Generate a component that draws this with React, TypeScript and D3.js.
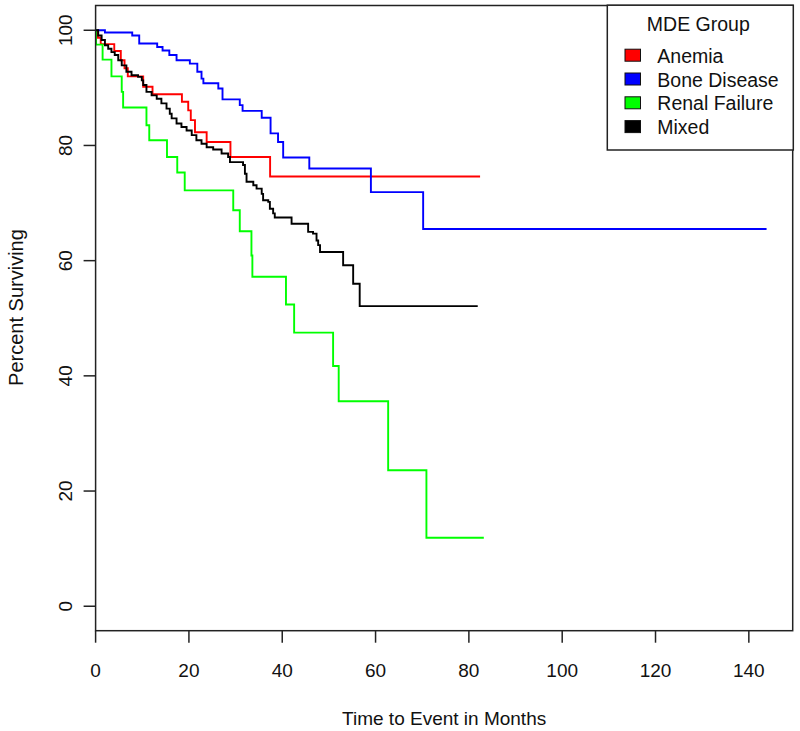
import React from "react";
import * as d3 from "d3";

// ---- data ----
const groupNames = ["Anemia", "Bone Disease", "Renal Failure", "Mixed"];
const groupColors = ["#FF0000", "#0000FF", "#00FF00", "#000000"];

// Anemia (red)
const anemiaTime = [0, 0.5, 1.1, 4.0, 5.4, 6.2, 6.9, 10.2, 12.2, 18.5, 19.85, 20.4, 21.3, 23.8, 28.9, 37.4];
const anemiaSurv = [100, 98.7, 97.6, 96.4, 94.8, 93.4, 92.0, 90.2, 88.9, 87.6, 86.1, 84.4, 82.3, 80.6, 78.0, 74.6];
const anemiaEnd = 82.4;

// Bone Disease (blue)
const boneTime = [0, 2.0, 7.85, 9.35, 13.2, 14.35, 15.8, 17.35, 20.2, 21.8, 22.7, 23.1, 26.3, 27.2, 30.9, 31.5, 35.6, 37.5, 39.1, 40.2, 45.8, 59.0, 70.2];
const boneSurv = [100, 99.6, 99.1, 97.7, 97.1, 96.5, 95.7, 94.8, 94.2, 92.8, 91.6, 90.8, 89.9, 88.0, 87.0, 86.0, 84.8, 82.1, 80.6, 77.9, 76.0, 71.9, 65.5];
const boneEnd = 143.8;

// Renal Failure (green)
const renalTime = [0, 0.1, 1.5, 3.4, 5.6, 5.9, 10.9, 11.5, 15.3, 17.5, 19.1, 29.5, 30.9, 33.4, 33.6, 40.8, 42.55, 50.9, 52.1, 62.7, 70.9];
const renalSurv = [100, 97.5, 94.9, 92.0, 89.3, 86.6, 83.5, 80.9, 78.0, 75.3, 72.2, 68.75, 65.1, 60.9, 57.2, 52.4, 47.5, 41.7, 35.6, 23.6, 11.9];
const renalEnd = 83.2;

// Mixed (black)
const mixedTime = [0, 0.56, 1.29, 2.0, 2.7, 3.4, 4.1, 4.85, 5.6, 6.6, 7.7, 9.1, 9.9, 10.2, 10.9, 12.0, 13.1, 14.1, 15.2, 15.9, 16.3, 17.35, 18.4, 19.5, 20.6, 21.6, 22.7, 23.8, 25.2, 27.0, 28.4, 28.8, 31.6, 32.0, 32.35, 33.8, 34.5, 35.6, 35.9, 37.0, 37.35, 38.05, 38.4, 42.0, 45.55, 46.6, 47.35, 47.7, 48.1, 53.05, 55.2, 56.6];
const mixedSurv = [100, 99.1, 98.3, 97.4, 96.8, 96.2, 95.7, 94.8, 93.9, 92.8, 92.2, 91.9, 91.3, 90.5, 89.3, 88.7, 88.1, 87.3, 86.4, 85.5, 84.7, 83.8, 83.2, 82.6, 81.8, 80.9, 80.3, 79.7, 79.3, 78.6, 78.0, 77.1, 76.6, 75.1, 73.7, 73.1, 72.5, 71.6, 70.5, 70.2, 69.0, 68.2, 67.5, 66.4, 65.0, 64.7, 63.5, 62.7, 61.5, 59.2, 56.0, 52.1];
const mixedEnd = 81.9;

const xTicks = [0, 20, 40, 60, 80, 100, 120, 140];
const yTicks = [0, 20, 40, 60, 80, 100];

const xLabel = "Time to Event in Months";
const yLabel = "Percent Surviving";
const legendTitle = "MDE Group";

const series = [
  { name: groupNames[0], color: groupColors[0], time: anemiaTime, surv: anemiaSurv, end: anemiaEnd },
  { name: groupNames[1], color: groupColors[1], time: boneTime, surv: boneSurv, end: boneEnd },
  { name: groupNames[2], color: groupColors[2], time: renalTime, surv: renalSurv, end: renalEnd },
  { name: groupNames[3], color: groupColors[3], time: mixedTime, surv: mixedSurv, end: mixedEnd },
];

export default function App() {
  const W = 800;
  const H = 731;
  const left = 95.6;
  const right = 792.7;
  const top = 5.5;
  const bottom = 630.7;

  const x = d3.scaleLinear().domain([0, 149.4]).range([left, right]);
  const y = d3.scaleLinear().domain([-4.3, 104.3]).range([631, 5.5]);

  const line = d3
    .line<[number, number]>()
    .x((d) => x(d[0]))
    .y((d) => y(d[1]))
    .curve(d3.curveStepAfter);

  const font = "'Liberation Sans', Arial, sans-serif";
  const axisColor = "#222";

  const legendX0 = 607.3;
  const legendX1 = 793.3;
  const legendY0 = 5.2;
  const legendY1 = 150;
  const rowY = (i: number) => 55.2 + i * 23.8;

  return (
    <svg
      width={W}
      height={H}
      style={{ position: "absolute", left: 0, top: 0, background: "#fff" }}
      fontFamily={font}
    >
      <rect x={0} y={0} width={W} height={H} fill="#fff" />
      {/* curves */}
      {series.map((s) => {
        const pts: [number, number][] = s.time.map((t, i) => [t, s.surv[i]] as [number, number]);
        pts.push([s.end, s.surv[s.surv.length - 1]]);
        return (
          <path key={s.name} d={line(pts) || ""} fill="none" stroke={s.color} strokeWidth={1.9} />
        );
      })}

      {/* box */}
      <rect
        x={left}
        y={top}
        width={right - left}
        height={bottom - top}
        fill="none"
        stroke={axisColor}
        strokeWidth={1.5}
      />

      {/* x axis ticks */}
      {xTicks.map((t) => (
        <g key={"x" + t}>
          <line x1={x(t)} x2={x(t)} y1={bottom} y2={bottom + 12} stroke={axisColor} strokeWidth={1.5} />
          <text x={x(t)} y={676.5} fontSize={19} textAnchor="middle" fill="#111">
            {t}
          </text>
        </g>
      ))}

      {/* y axis ticks */}
      {yTicks.map((t) => (
        <g key={"y" + t}>
          <line x1={left - 12} x2={left} y1={y(t)} y2={y(t)} stroke={axisColor} strokeWidth={1.5} />
          <text
            transform={`translate(72,${y(t)}) rotate(-90)`}
            fontSize={19}
            textAnchor="middle"
            fill="#111"
          >
            {t}
          </text>
        </g>
      ))}

      {/* axis titles */}
      <text x={(left + right) / 2} y={725} fontSize={19} textAnchor="middle" fill="#111">
        {xLabel}
      </text>
      <text
        transform={`translate(22.5,${307.5}) rotate(-90)`}
        fontSize={20}
        textAnchor="middle"
        fill="#111"
      >
        {yLabel}
      </text>

      {/* legend */}
      <rect
        x={legendX0}
        y={legendY0}
        width={legendX1 - legendX0}
        height={legendY1 - legendY0}
        fill="#fff"
        stroke={axisColor}
        strokeWidth={1.5}
      />
      <text x={(legendX0 + legendX1) / 2 - 2} y={30.5} fontSize={19.5} textAnchor="middle" fill="#111">
        {legendTitle}
      </text>
      {series.map((s, i) => (
        <g key={"lg" + s.name}>
          <rect x={625} y={rowY(i) - 6} width={15.5} height={12} fill={s.color} stroke="#111" strokeWidth={1} />
          <text x={657.3} y={rowY(i) + 7.5} fontSize={19.5} fill="#111">
            {s.name}
          </text>
        </g>
      ))}
    </svg>
  );
}
